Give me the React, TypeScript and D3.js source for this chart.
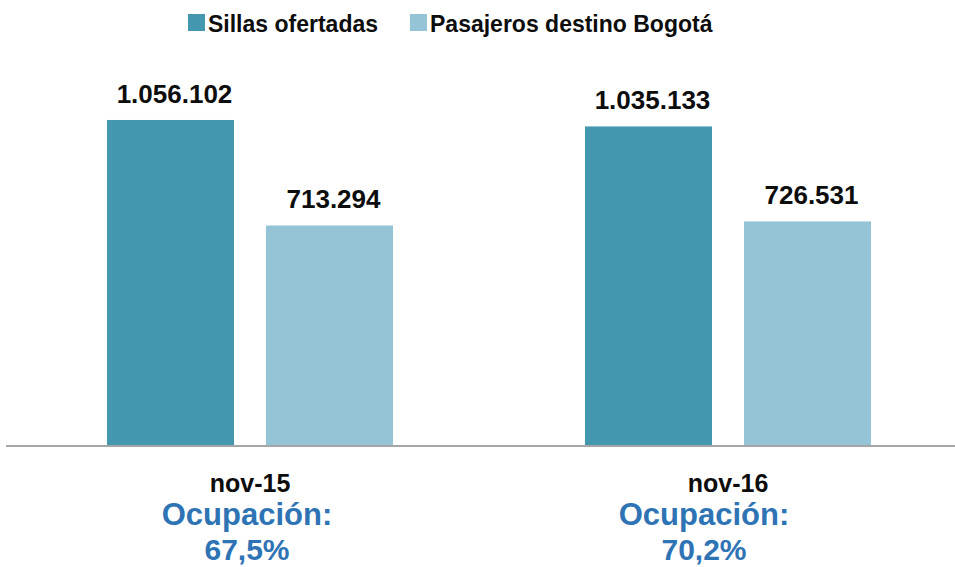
import React from "react";
import * as d3 from "d3";

const categories = ["nov-15", "nov-16"];
const seriesNames = ["Sillas ofertadas", "Pasajeros destino Bogotá"];
const sillas = [1056102, 1035133];
const pasajeros = [713294, 726531];
const occupancyTitle = "Ocupación:";

const W = 955;
const H = 567;
const COLORS = ["#4398B0", "#95C4D6"];
const FONT = "'Liberation Sans', Arial, sans-serif";
const OCC_DX = [-3, -24];

const locale = d3.formatLocale({
  decimal: ",",
  thousands: ".",
  grouping: [3],
  currency: ["", ""],
});
const fmtNum = locale.format(",d");
const fmtPct = locale.format(".1%");

export default function App() {
  const baseline = 445;
  const y = d3.scaleLinear().domain([0, 1200000]).range([baseline, 75.7]);
  const x0 = d3.scaleBand<string>().domain(categories).range([11, 967]);
  const x1 = d3
    .scaleBand<string>()
    .domain(seriesNames)
    .range([96, x0.bandwidth() - 96])
    .paddingInner(0.2013);

  const values = [sillas, pasajeros];

  const legendPos = [
    { sq: 188, tx: 208 },
    { sq: 410, tx: 430 },
  ];

  return (
    <svg
      width={W}
      height={H}
      style={{ position: "absolute", left: 0, top: 0, background: "#fff" }}
      fontFamily={FONT}
    >
      {/* legend */}
      {seriesNames.map((s, i) => (
        <g key={s}>
          <rect x={legendPos[i].sq} y={14} width={17} height={17} fill={COLORS[i]} />
          <text x={legendPos[i].tx} y={32} fontSize={23} fontWeight="bold" fill="#0d0d0d">
            {s}
          </text>
        </g>
      ))}

      {/* bars */}
      {categories.map((c, ci) => (
        <g key={c} transform={`translate(${x0(c)},0)`}>
          {seriesNames.map((s, si) => {
            const v = values[si][ci];
            const bx = x1(s)!;
            return (
              <g key={s}>
                <rect
                  x={bx}
                  y={y(v)}
                  width={x1.bandwidth()}
                  height={baseline - y(v)}
                  fill={COLORS[si]}
                />
                <text
                  x={bx + x1.bandwidth() / 2 + 4}
                  y={y(v) - 17}
                  textAnchor="middle"
                  fontSize={26}
                  fontWeight="bold"
                  fill="#0d0d0d"
                >
                  {fmtNum(v)}
                </text>
              </g>
            );
          })}
        </g>
      ))}

      {/* axis line */}
      <line x1={6} x2={W} y1={446} y2={446} stroke="#a6a6a6" strokeWidth={2} />

      {/* category labels and occupancy */}
      {categories.map((c, ci) => {
        const cx = x0(c)! + x0.bandwidth() / 2;
        return (
          <g key={c}>
            <text x={cx} y={492} textAnchor="middle" fontSize={25} fontWeight="bold" fill="#0d0d0d">
              {c}
            </text>
            <text
              x={cx + OCC_DX[ci]}
              y={525}
              textAnchor="middle"
              fontSize={31}
              fontWeight="bold"
              fill="#2E74B5"
            >
              {occupancyTitle}
            </text>
            <text
              x={cx + OCC_DX[ci]}
              y={560}
              textAnchor="middle"
              fontSize={30}
              fontWeight="bold"
              fill="#2E74B5"
            >
              {fmtPct(pasajeros[ci] / sillas[ci])}
            </text>
          </g>
        );
      })}
    </svg>
  );
}
